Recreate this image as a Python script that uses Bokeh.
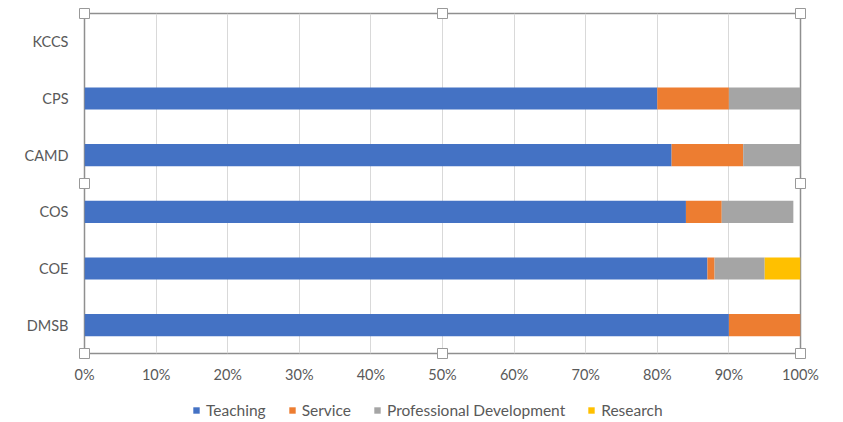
from bokeh.plotting import figure
from bokeh.layouts import column
from bokeh.models import FactorRange, Range1d, Legend, LegendItem, FixedTicker, ColumnDataSource, CustomJSTickFormatter
from bokeh.embed import file_html
from bokeh.resources import INLINE

categories = ["DMSB", "COE", "COS", "CAMD", "CPS", "KCCS"]
teaching = [90, 87, 84, 82, 80, 0]
service = [10, 1, 5, 10, 10, 0]
prof_dev = [0, 7, 10, 8, 10, 0]
research = [0, 5, 0, 0, 0, 0]
series = ["Teaching", "Service", "Professional Development", "Research"]
colors = ["#4472C4", "#ED7D31", "#A5A5A5", "#FFC000"]
ticks = [0, 10, 20, 30, 40, 50, 60, 70, 80, 90, 100]

src = ColumnDataSource(dict(cat=categories, Teaching=teaching, Service=service,
                            **{"Professional Development": prof_dev}, Research=research))

p = figure(frame_width=716, frame_height=340,
           y_range=FactorRange(*categories, range_padding=0, factor_padding=0),
           x_range=Range1d(0, 100), output_backend="svg", toolbar_location=None,
           min_border_left=84, min_border_right=43, min_border_top=13, min_border_bottom=40)
rs = p.hbar_stack(series, y="cat", height=0.39, color=colors, source=src, line_width=0)

tick_font = "Lato"
p.xaxis.ticker = FixedTicker(ticks=ticks)
p.xaxis.formatter = CustomJSTickFormatter(code="return tick + '%';")
for ax in (p.xaxis, p.yaxis):
    ax.axis_line_color = None
    ax.major_tick_line_color = None
    ax.minor_tick_line_color = None
    ax.major_tick_out = 0
    ax.major_tick_in = 0
    ax.minor_tick_out = 0
    ax.major_label_text_color = "#595959"
    ax.major_label_text_font = tick_font
    ax.major_label_text_font_size = "14.5px"
p.yaxis.major_label_standoff = 16
p.xaxis.major_label_standoff = 12

p.xgrid.grid_line_color = "#d9d9d9"
p.xgrid.ticker = FixedTicker(ticks=ticks)
p.ygrid.grid_line_color = None
p.outline_line_color = "#8f8f8f"
p.outline_line_width = 1.5

# selection handles at frame corners and mid-edges
p.scatter(x=[0, 50, 100, 0, 100, 0, 50, 100],
          y=[0.0, 0.0, 0.0, 3.0, 3.0, 6.0, 6.0, 6.0], marker="square", size=10,
          fill_color="white", line_color="#999999", line_width=1, level="overlay")

# legend strip below the chart (swatch renderers sit outside the visible range)
lg = figure(frame_width=843, frame_height=29, x_range=Range1d(0, 1), y_range=Range1d(0, 1),
            output_backend="svg", toolbar_location=None, min_border=0)
lg.axis.visible = False
lg.grid.visible = False
lg.outline_line_color = None
swatches = [lg.hbar(y=[-5], left=[0], right=[1], height=1, color=c, line_width=0) for c in colors]

legend = Legend(items=[LegendItem(label=s, renderers=[r]) for s, r in zip(series, swatches)],
                orientation="horizontal", location=(192, 3))
legend.glyph_width = 8
legend.glyph_height = 8
legend.label_height = 16
legend.label_text_font = tick_font
legend.label_text_font_size = "15.5px"
legend.label_text_color = "#595959"
legend.border_line_color = None
legend.background_fill_alpha = 0
legend.spacing = 22
legend.label_standoff = 6
legend.padding = 0
legend.margin = 0
lg.add_layout(legend, "center")

layout = column(p, lg, spacing=0)
open("out.html", "w").write(file_html(layout, INLINE))
